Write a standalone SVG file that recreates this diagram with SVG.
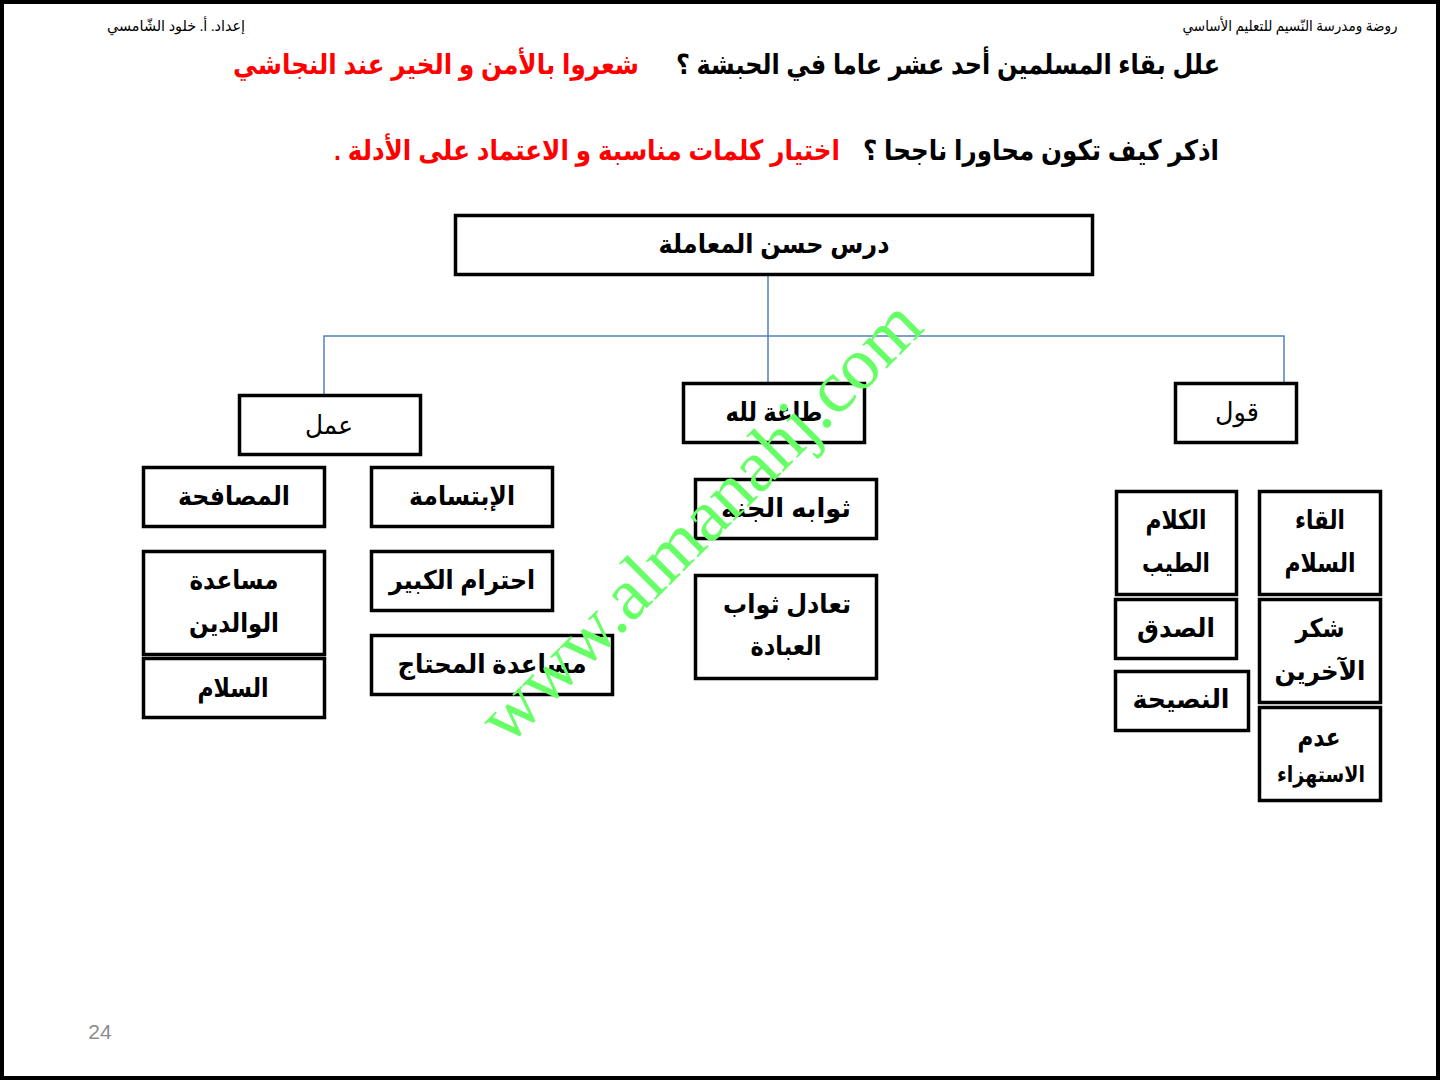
<svg xmlns="http://www.w3.org/2000/svg" width="1440" height="1080" viewBox="0 0 1440 1080">
<style>
.box{fill:#fff;stroke:#000;stroke-width:3.5}
.t{font-family:"Liberation Sans","DejaVu Sans",sans-serif;font-size:26px;font-weight:bold;fill:#000;text-anchor:middle;direction:rtl}
.r{font-weight:normal}
.hd{font-family:"Liberation Serif","DejaVu Serif","DejaVu Sans",serif;font-size:15px;fill:#000;text-anchor:middle;direction:rtl}
.ti{font-family:"Liberation Sans","DejaVu Sans",sans-serif;font-size:28px;font-weight:bold;text-anchor:middle;direction:rtl}
.con{fill:none;stroke:#4f81bd;stroke-width:1.5}
</style>
<rect x="0" y="0" width="1440" height="1080" fill="#fff"/>
<rect x="2" y="2" width="1436" height="1076" fill="none" stroke="#000" stroke-width="4"/>

<g id="header">
<text class="hd" x="176" y="31" textLength="138" lengthAdjust="spacingAndGlyphs">إعداد. أ. خلود الشّامسي</text>
<text class="hd" x="1290" y="31" textLength="215" lengthAdjust="spacingAndGlyphs">روضة ومدرسة النّسيم  للتعليم الأساسي</text>
</g>

<g id="questions">
<text class="ti" x="948" y="74" fill="#000" textLength="544" lengthAdjust="spacingAndGlyphs">علل بقاء المسلمين أحد عشر عاما في الحبشة ؟</text>
<text class="ti" x="436" y="74" fill="#ff0000" textLength="406" lengthAdjust="spacingAndGlyphs">شعروا بالأمن و الخير عند النجاشي</text>
<text class="ti" x="1041" y="160" fill="#000" textLength="356" lengthAdjust="spacingAndGlyphs">اذكر كيف تكون محاورا ناجحا ؟</text>
<text class="ti" x="587" y="160" fill="#ff0000" textLength="506" lengthAdjust="spacingAndGlyphs">اختيار كلمات مناسبة و الاعتماد على الأدلة .</text>
</g>

<g id="connectors">
<path class="con" d="M768 275 V383"/>
<path class="con" d="M324 395 V336 H1284 V383"/>
</g>

<g id="root">
<rect class="box" x="455.5" y="215.5" width="637" height="59"/>
<text class="t" x="774" y="253" textLength="231" lengthAdjust="spacingAndGlyphs">درس حسن المعاملة</text>
</g>

<g id="n-amal">
<rect class="box" x="239.5" y="395.5" width="181" height="59"/>
<text class="t r" x="329" y="434" textLength="48" lengthAdjust="spacingAndGlyphs">عمل</text>
</g>
<g id="n-taa">
<rect class="box" x="683.5" y="383.5" width="181" height="59"/>
<text class="t" x="774" y="421" textLength="97" lengthAdjust="spacingAndGlyphs">طاعة لله</text>
</g>
<g id="n-qawl">
<rect class="box" x="1175.5" y="383.5" width="121" height="59"/>
<text class="t r" x="1237" y="421" textLength="44" lengthAdjust="spacingAndGlyphs">قول</text>
</g>

<g id="n-musafaha">
<rect class="box" x="143.5" y="467.5" width="181" height="59"/>
<text class="t" x="234" y="505" textLength="112" lengthAdjust="spacingAndGlyphs">المصافحة</text>
</g>
<g id="n-ibtisama">
<rect class="box" x="371.5" y="467.5" width="181" height="59"/>
<text class="t" x="462" y="505" textLength="106" lengthAdjust="spacingAndGlyphs">الإبتسامة</text>
</g>
<g id="n-walidayn">
<rect class="box" x="143.5" y="551.5" width="181" height="103"/>
<text class="t" x="234" y="589" textLength="89" lengthAdjust="spacingAndGlyphs">مساعدة</text>
<text class="t" x="234" y="632" textLength="90" lengthAdjust="spacingAndGlyphs">الوالدين</text>
</g>
<g id="n-kabir">
<rect class="box" x="371.5" y="551.5" width="181" height="59"/>
<text class="t" x="462" y="589" textLength="146" lengthAdjust="spacingAndGlyphs">احترام الكبير</text>
</g>
<g id="n-salam-l">
<rect class="box" x="143.5" y="658.5" width="181" height="59"/>
<text class="t" x="233" y="697" textLength="71" lengthAdjust="spacingAndGlyphs">السلام</text>
</g>
<g id="n-muhtaj">
<rect class="box" x="371.5" y="635.5" width="241" height="59"/>
<text class="t" x="492" y="673" textLength="189" lengthAdjust="spacingAndGlyphs">مساعدة المحتاج</text>
</g>

<g id="n-jannah">
<rect class="box" x="695.5" y="479.5" width="181" height="59"/>
<text class="t" x="786" y="517" textLength="130" lengthAdjust="spacingAndGlyphs">ثوابه الجنة</text>
</g>
<g id="n-ibada">
<rect class="box" x="695.5" y="575.5" width="181" height="103"/>
<text class="t" x="787" y="613" textLength="128" lengthAdjust="spacingAndGlyphs">تعادل ثواب</text>
<text class="t" x="786" y="655" textLength="71" lengthAdjust="spacingAndGlyphs">العبادة</text>
</g>

<g id="n-kalam">
<rect class="box" x="1116.5" y="491.5" width="120" height="103"/>
<text class="t" x="1176" y="529" textLength="61" lengthAdjust="spacingAndGlyphs">الكلام</text>
<text class="t" x="1176" y="572" textLength="68" lengthAdjust="spacingAndGlyphs">الطيب</text>
</g>
<g id="n-ilqa">
<rect class="box" x="1259.5" y="491.5" width="121" height="103"/>
<text class="t" x="1320" y="529" textLength="50" lengthAdjust="spacingAndGlyphs">القاء</text>
<text class="t" x="1320" y="572" textLength="71" lengthAdjust="spacingAndGlyphs">السلام</text>
</g>
<g id="n-sidq">
<rect class="box" x="1115.5" y="599.5" width="121" height="59"/>
<text class="t" x="1176" y="637" textLength="78" lengthAdjust="spacingAndGlyphs">الصدق</text>
</g>
<g id="n-shukr">
<rect class="box" x="1259.5" y="599.5" width="121" height="103"/>
<text class="t" x="1320" y="637" textLength="49" lengthAdjust="spacingAndGlyphs">شكر</text>
<text class="t" x="1320" y="680" textLength="91" lengthAdjust="spacingAndGlyphs">الآخرين</text>
</g>
<g id="n-nasiha">
<rect class="box" x="1115.5" y="671.5" width="133" height="59"/>
<text class="t" x="1181" y="708" textLength="97" lengthAdjust="spacingAndGlyphs">النصيحة</text>
</g>
<g id="n-istihza">
<rect class="box" x="1259.5" y="707.5" width="121" height="93"/>
<text class="t" x="1319" y="746" textLength="43" lengthAdjust="spacingAndGlyphs">عدم</text>
<text class="t" x="1321" y="782" style="font-size:22px" textLength="88" lengthAdjust="spacingAndGlyphs">الاستهزاء</text>
</g>

<text x="100" y="1039" font-family="Liberation Sans, Arial, sans-serif" font-size="21" fill="#8c8c8c" text-anchor="middle">24</text>

<text x="717" y="538" transform="rotate(-45 717 538)" font-family="Liberation Serif, Times New Roman, serif" font-size="74" fill="#66ff66" text-anchor="middle">www.almanahj.com</text>
</svg>
